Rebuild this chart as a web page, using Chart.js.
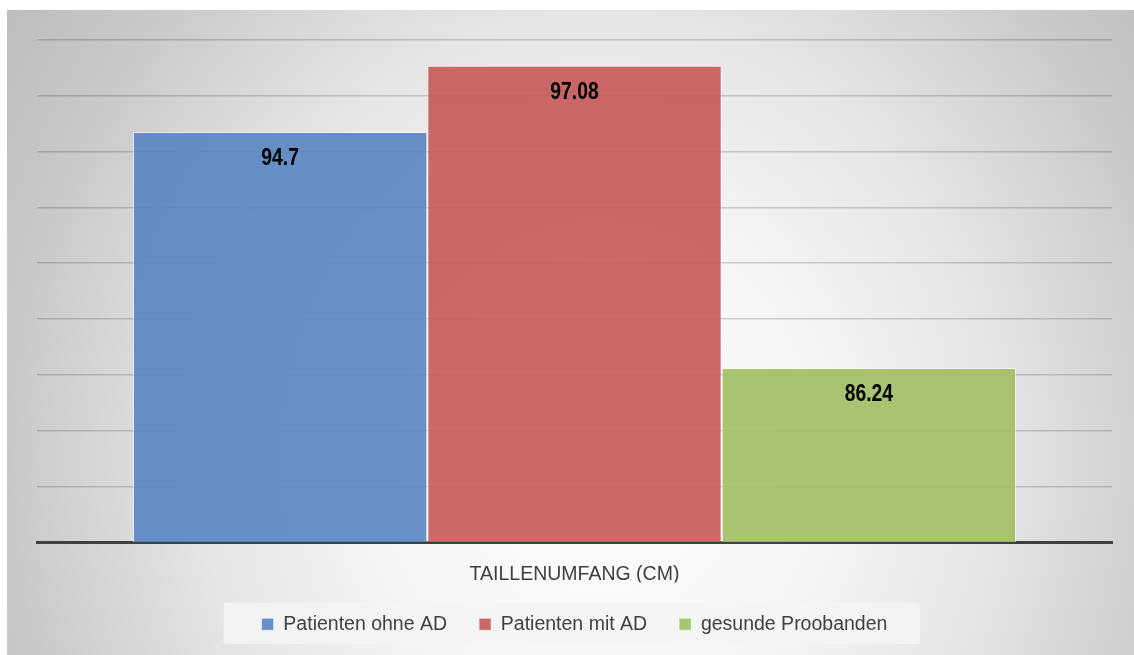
<!DOCTYPE html>
<html>
<head>
<meta charset="utf-8">
<script src="https://cdn.jsdelivr.net/npm/chart.js@4"></script>
<style>
    html, body { margin: 0; padding: 0; background: #ffffff; }
    #wrap { position: relative; width: 1134px; height: 655px; }
</style>
</head>
<body>
<div id="wrap"><canvas id="waistChart" width="1134" height="655"></canvas></div>
<script>
// Taillenumfang je Gruppe (Mittelwerte in cm)
const categories = ['TAILLENUMFANG (CM)'];
const groupNames = ['Patienten ohne AD', 'Patienten mit AD', 'gesunde Proobanden'];
const patientenOhneAD = [94.7];
const patientenMitAD = [97.08];
const gesundeProbanden = [86.24];
const yTicks = [80, 82, 84, 86, 88, 90, 92, 94, 96, 98];

const sansFont = '"Liberation Sans", Arial, sans-serif';

// grey panel with soft radial light
const panelBackground = {
    id: 'panelBackground',
    beforeDraw(chart) {
        const ctx = chart.ctx;
        ctx.save();
        ctx.fillStyle = '#ffffff';
        ctx.fillRect(0, 0, chart.width, chart.height);
        ctx.beginPath();
        ctx.rect(7, 10, chart.width - 7, chart.height - 10);
        ctx.clip();
        ctx.translate(600, 460);
        ctx.scale(620 / 700, 1);
        const r = 700 * 1.15;
        const g = ctx.createRadialGradient(0, 0, 0, 0, 0, r);
        g.addColorStop(0, '#ffffff');
        g.addColorStop(0.3, '#f6f6f6');
        g.addColorStop(0.55, '#e6e6e6');
        g.addColorStop(0.83, '#c9c9c9');
        g.addColorStop(1, '#bdbdbd');
        ctx.fillStyle = g;
        ctx.fillRect(-1000, -1000, 3000, 3000);
        ctx.restore();

        // light box behind legend items
        const boxes = chart.legend && chart.legend.legendHitBoxes;
        if (boxes && boxes.length) {
            const left = Math.min(...boxes.map(b => b.left));
            const right = Math.max(...boxes.map(b => b.left + b.width));
            const top = Math.min(...boxes.map(b => b.top));
            const bottom = Math.max(...boxes.map(b => b.top + b.height));
            ctx.save();
            ctx.fillStyle = 'rgba(245,245,245,0.85)';
            ctx.fillRect(left - 38, top - 12, right - left + 70, bottom - top + 22);
            ctx.restore();
        }
    }
};

// value written inside the top of each bar, in a narrow bold face
const barValues = {
    id: 'barValues',
    afterDatasetsDraw(chart) {
        const ctx = chart.ctx;
        chart.data.datasets.forEach((ds, i) => {
            chart.getDatasetMeta(i).data.forEach((bar, j) => {
                ctx.save();
                ctx.translate(bar.x, bar.y + 27);
                ctx.scale(0.84, 1);
                ctx.font = 'bold 23px ' + sansFont;
                ctx.fillStyle = '#000000';
                ctx.textAlign = 'center';
                ctx.textBaseline = 'middle';
                ctx.fillText(String(ds.data[j]), 0, 0);
                ctx.restore();
            });
        });
    }
};

new Chart(document.getElementById('waistChart'), {
    type: 'bar',
    data: {
        labels: categories,
        datasets: [
            { label: groupNames[0], data: patientenOhneAD, backgroundColor: 'rgba(88,134,193,0.9)' },
            { label: groupNames[1], data: patientenMitAD, backgroundColor: 'rgba(197,89,88,0.9)' },
            { label: groupNames[2], data: gesundeProbanden, backgroundColor: 'rgba(160,191,98,0.9)' }
        ].map(ds => Object.assign(ds, {
            borderColor: 'rgba(255,255,255,0.55)',
            borderWidth: 1,
            barPercentage: 1,
            categoryPercentage: 0.8214
        }))
    },
    options: {
        responsive: false,
        animation: false,
        layout: { padding: { left: 37, right: 22, top: 40, bottom: 11 } },
        plugins: {
            legend: {
                position: 'bottom',
                labels: {
                    boxWidth: 12,
                    boxHeight: 12,
                    padding: 32,
                    color: '#404040',
                    font: { family: sansFont, size: 19.5 }
                }
            },
            tooltip: { enabled: false }
        },
        scales: {
            x: {
                grid: { display: false },
                border: { display: true, color: '#404040', width: 3 },
                ticks: {
                    color: '#404040',
                    padding: 13,
                    font: { family: sansFont, size: 19.5 }
                },
                // keep the legend tucked closer under the category label
                afterFit(scale) {
                    scale.height -= 17;
                }
            },
            y: {
                min: yTicks[0],
                max: yTicks[yTicks.length - 1],
                afterBuildTicks(scale) {
                    scale.ticks = yTicks.map(v => ({ value: v }));
                },
                ticks: { display: false },
                border: { display: false },
                grid: {
                    color: 'rgba(0,0,0,0.17)',
                    lineWidth: 1.5,
                    drawTicks: false
                }
            }
        }
    },
    plugins: [panelBackground, barValues]
});
</script>
</body>
</html>
